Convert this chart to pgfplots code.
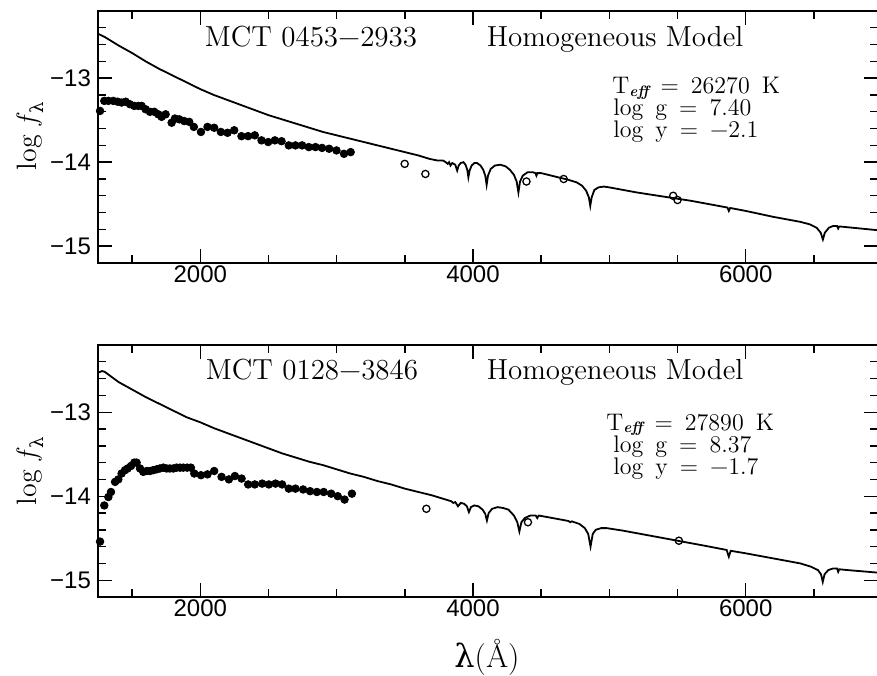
\documentclass[border=0pt]{standalone}
\usepackage{fontspec}
\usepackage{pgfplots}
\pgfplotsset{compat=1.18}
\usepackage{pgfplotstable}
\newfontfamily\tickfont{Liberation Sans}
\newfontfamily\greek{DejaVu Serif}

\pgfplotstableread{
x y
1250 -12.47
1300 -12.51
1400 -12.61
1500 -12.70
1600 -12.80
1700 -12.89
1800 -12.97
1900 -13.05
2000 -13.13
2100 -13.20
2200 -13.26
2300 -13.32
2400 -13.38
2500 -13.44
2600 -13.49
2700 -13.54
2800 -13.59
2900 -13.64
3000 -13.68
3100 -13.72
3200 -13.76
3300 -13.80
3400 -13.84
3500 -13.88
3600 -13.92
3680 -13.96
3740 -13.98
3780 -13.98
3800 -14.00
3815 -14.02
3825 -14.00
3835 -14.04
3848 -14.01
3870 -14.03
3884 -14.10
3895 -14.04
3910 -14.01
3930 -14.00
3945 -14.03
3958 -14.09
3966 -14.18
3975 -14.10
3990 -14.04
4010 -14.01
4030 -14.01
4055 -14.04
4075 -14.09
4090 -14.16
4100 -14.27
4110 -14.16
4130 -14.08
4160 -14.04
4200 -14.03
4240 -14.05
4270 -14.09
4300 -14.15
4320 -14.23
4333 -14.36
4345 -14.23
4365 -14.16
4400 -14.12
4440 -14.12
4458 -14.13
4465 -14.16
4472 -14.13
4500 -14.13
4600 -14.17
4700 -14.21
4760 -14.24
4800 -14.28
4830 -14.34
4850 -14.42
4860 -14.52
4870 -14.42
4890 -14.33
4920 -14.30
4960 -14.29
5000 -14.30
5200 -14.36
5400 -14.41
5600 -14.46
5800 -14.52
5866 -14.54
5876 -14.58
5886 -14.545
6000 -14.58
6200 -14.65
6400 -14.71
6470 -14.74
6520 -14.78
6550 -14.84
6566 -14.92
6580 -14.84
6610 -14.78
6640 -14.76
6670 -14.76
6678 -14.79
6686 -14.765
6720 -14.77
6970 -14.81
}\modelA

\pgfplotstableread{
x y
1265 -13.39
1296 -13.27
1326 -13.27
1362 -13.27
1394 -13.28
1423 -13.29
1453 -13.28
1484 -13.31
1516 -13.33
1545 -13.33
1570 -13.33
1599 -13.37
1631 -13.40
1663 -13.40
1692 -13.43
1716 -13.46
1746 -13.43
1790 -13.53
1814 -13.48
1846 -13.49
1882 -13.51
1919 -13.52
1953 -13.58
2005 -13.64
2053 -13.58
2102 -13.59
2151 -13.64
2200 -13.65
2249 -13.62
2302 -13.69
2351 -13.69
2400 -13.68
2449 -13.74
2498 -13.76
2547 -13.74
2596 -13.75
2649 -13.80
2698 -13.80
2747 -13.80
2796 -13.82
2845 -13.82
2893 -13.83
2945 -13.84
2999 -13.86
3054 -13.90
3103 -13.88
}\dotsA

\pgfplotstableread{
x y
3499 -14.02
3651 -14.14
4392 -14.23
4665 -14.20
5468 -14.40
5500 -14.45
}\openA

\pgfplotstableread{
x y
1250 -12.53
1280 -12.51
1300 -12.52
1400 -12.64
1500 -12.73
1600 -12.82
1700 -12.90
1800 -12.98
1900 -13.06
2000 -13.12
2100 -13.19
2200 -13.25
2300 -13.31
2400 -13.37
2500 -13.43
2600 -13.49
2700 -13.54
2800 -13.59
2900 -13.63
3000 -13.68
3100 -13.73
3200 -13.77
3300 -13.82
3400 -13.86
3500 -13.91
3600 -13.95
3700 -13.99
3800 -14.04
3840 -14.06
3855 -14.08
3870 -14.07
3890 -14.12
3910 -14.08
3935 -14.09
3955 -14.12
3970 -14.19
3985 -14.13
4010 -14.11
4040 -14.12
4070 -14.16
4090 -14.21
4102 -14.29
4115 -14.20
4140 -14.15
4180 -14.13
4220 -14.14
4260 -14.16
4300 -14.23
4325 -14.31
4340 -14.42
4355 -14.31
4380 -14.26
4420 -14.23
4460 -14.23
4471 -14.26
4482 -14.23
4550 -14.25
4650 -14.28
4700 -14.295
4713 -14.31
4725 -14.30
4780 -14.33
4820 -14.38
4845 -14.45
4862 -14.60
4878 -14.45
4900 -14.40
4940 -14.38
4980 -14.38
5100 -14.41
5300 -14.47
5500 -14.53
5700 -14.59
5860 -14.64
5876 -14.72
5890 -14.65
6000 -14.68
6200 -14.74
6400 -14.80
6480 -14.84
6530 -14.88
6552 -14.93
6565 -15.02
6578 -14.93
6605 -14.88
6640 -14.86
6670 -14.86
6678 -14.90
6686 -14.87
6750 -14.88
6970 -14.91
}\modelB

\pgfplotstableread{
x y
1265 -14.54
1296 -14.11
1326 -14.01
1345 -13.95
1375 -13.83
1399 -13.80
1423 -13.73
1448 -13.69
1467 -13.67
1492 -13.64
1516 -13.60
1533 -13.60
1558 -13.67
1582 -13.71
1607 -13.70
1631 -13.70
1655 -13.69
1680 -13.68
1704 -13.67
1729 -13.66
1753 -13.67
1777 -13.67
1802 -13.67
1826 -13.66
1851 -13.66
1875 -13.66
1904 -13.66
1931 -13.66
1956 -13.73
2005 -13.75
2053 -13.74
2102 -13.70
2156 -13.77
2210 -13.80
2254 -13.76
2303 -13.79
2351 -13.86
2400 -13.86
2454 -13.85
2503 -13.86
2552 -13.85
2600 -13.86
2649 -13.91
2698 -13.91
2754 -13.92
2805 -13.94
2855 -13.95
2905 -13.95
2960 -13.97
3008 -14.00
3058 -14.04
3112 -13.97
}\dotsB

\pgfplotstableread{
x y
3658 -14.15
4403 -14.31
5510 -14.53
}\openB

\pgfplotsset{
  panel/.style={
    scale only axis, width=390pt, height=126pt,
    anchor=south west,
    xmin=1250, xmax=6970, ymin=-15.2, ymax=-12.2,
    xtick={2000,4000,6000}, xticklabels={2000,4000,6000},
    minor xtick={1500,2500,3000,3500,4500,5000,5500,6500},
    ytick={-15,-14,-13}, yticklabels={−15,−14,−13},
    minor ytick={-14.8,-14.6,-14.4,-14.2,-13.8,-13.6,-13.4,-13.2,-12.8,-12.6,-12.4},
    tick align=inside, major tick length=7pt, minor tick length=4pt,
    xtick pos=both, ytick pos=both,
    tick style={line width=0.7pt, black},
    axis line style={line width=0.9pt},
    ticklabel style={font=\tickfont\fontsize{12}{14}\selectfont},
    xticklabel style={yshift=2pt},
  },
  model/.style={black, line width=0.9pt, no marks},
  fdots/.style={only marks, mark=*, mark size=1.9pt, black},
  odots/.style={only marks, mark=o, mark size=1.8pt, black, mark options={line width=0.65pt}},
}

\newcommand{\titlefont}{\fontsize{14.5}{16}\selectfont\addfontfeatures{LetterSpace=2}}
\newcommand{\parfont}{\fontsize{12}{13}\selectfont}
\newcommand{\gap}{\hspace{0.5em}}
\newcommand{\eff}{\raisebox{-0.25ex}{\fontsize{7.5}{8}\selectfont\bfseries\itshape eff}}

\begin{document}
\begin{tikzpicture}
\useasboundingbox (0,0) rectangle (438.5pt,337.5pt);

\begin{axis}[panel, at={(49pt,206pt)}]
\addplot[model] table {\modelA};
\addplot[fdots] table {\dotsA};
\addplot[odots] table {\openA};
\end{axis}

\begin{axis}[panel, at={(49pt,39pt)}]
\addplot[model] table {\modelB};
\addplot[fdots] table {\dotsB};
\addplot[odots] table {\openB};
\end{axis}

% titles
\node[anchor=base] at (155.5pt,314pt) {\titlefont MCT 0453−2933};
\node[anchor=base] at (307.5pt,314pt) {\titlefont Homogeneous Model};
\node[anchor=base] at (156pt,147.5pt) {\titlefont MCT 0128−3846};
\node[anchor=base] at (307.5pt,147.5pt) {\titlefont Homogeneous Model};

% parameters
\node[anchor=base west, inner sep=0pt] at (306pt,290.5pt) {\parfont T\eff\gap=\gap26270\gap K};
\node[anchor=base west, inner sep=0pt] at (306.5pt,279.5pt) {\parfont log\gap g\gap=\gap7.40};
\node[anchor=base west, inner sep=0pt] at (306.5pt,268.5pt) {\parfont log\gap y\gap=\gap−2.1};

\node[anchor=base west, inner sep=0pt] at (303pt,122.5pt) {\parfont T\eff\gap=\gap27890\gap K};
\node[anchor=base west, inner sep=0pt] at (306.5pt,111.5pt) {\parfont log\gap g\gap=\gap8.37};
\node[anchor=base west, inner sep=0pt] at (306.5pt,100.5pt) {\parfont log\gap y\gap=\gap−1.7};

% axis labels
\node[rotate=90] at (15pt,269.5pt) {\fontsize{14}{16}\selectfont log \textit{f}\raisebox{-0.6ex}{\fontsize{9}{10}\selectfont\greek λ}};
\node[rotate=90] at (15pt,102pt) {\fontsize{14}{16}\selectfont log \textit{f}\raisebox{-0.6ex}{\fontsize{9}{10}\selectfont\greek λ}};
\node[anchor=base] at (243.5pt,4pt) {\fontsize{16}{18}\selectfont{\greek λ}(Å)};
\end{tikzpicture}
\end{document}
